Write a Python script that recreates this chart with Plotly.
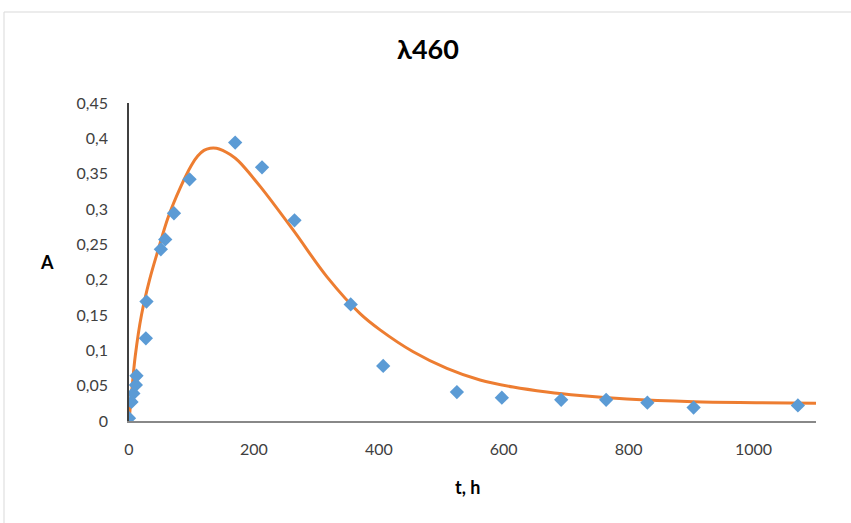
import plotly.graph_objects as go

# Measured points
t_obs = [0, 4, 7, 11, 12, 27, 28, 51, 58, 72, 97, 170, 213, 265, 355, 407, 525, 597, 692, 764, 830, 904, 1071]
a_obs = [0.004, 0.027, 0.039, 0.051, 0.064, 0.117, 0.169, 0.243, 0.257, 0.294, 0.342, 0.394, 0.359, 0.284,
         0.165, 0.078, 0.041, 0.033, 0.030, 0.030, 0.026, 0.019, 0.022]

# Trend curve
t_fit = [0, 5, 10, 20, 33, 47, 63, 82, 100, 110, 120, 130, 140, 150, 162, 175, 210, 263, 317, 370, 402, 455,
         509, 562, 615, 669, 722, 797, 904, 1010, 1100]
a_fit = [0.0, 0.048, 0.092, 0.150, 0.200, 0.243, 0.289, 0.330, 0.362, 0.375, 0.383, 0.386, 0.386, 0.383,
         0.377, 0.368, 0.332, 0.270, 0.204, 0.152, 0.129, 0.098, 0.0745, 0.058, 0.048, 0.041, 0.036, 0.031,
         0.0273, 0.026, 0.025]

x_ticks = [0, 200, 400, 600, 800, 1000]
x_tick_text = ["0", "200", "400", "600", "800", "1000"]
y_ticks = [0, 0.05, 0.1, 0.15, 0.2, 0.25, 0.3, 0.35, 0.4, 0.45]
y_tick_text = ["0", "0,05", "0,1", "0,15", "0,2", "0,25", "0,3", "0,35", "0,4", "0,45"]

FONT = "Lato"

fig = go.Figure()
fig.add_trace(go.Scatter(x=t_fit, y=a_fit, mode="lines",
                         line=dict(color="#ED7D31", width=3, shape="spline", smoothing=1.0),
                         hoverinfo="skip", showlegend=False))
fig.add_trace(go.Scatter(x=t_obs, y=a_obs, mode="markers",
                         marker=dict(symbol="diamond", size=11, color="#5B9BD5"), showlegend=False))

fig.update_layout(
    width=851, height=523,
    margin=dict(l=129, r=35, t=103, b=102),
    paper_bgcolor="white", plot_bgcolor="white",
    font=dict(family=FONT, size=16, color="#595959"),
    title=dict(text="<b>λ460</b>", x=428/851, xref="container", xanchor="center",
               y=1-50/523, yref="container", yanchor="middle",
               font=dict(family=FONT, size=27, color="#000000")),
    xaxis=dict(range=[0, 1100], tickvals=x_ticks, ticktext=x_tick_text, showgrid=False, zeroline=False,
               showline=True, linecolor="#888888", linewidth=2, ticks="", ticklabelstandoff=13,
               tickfont=dict(family=FONT, size=16, color="#404040")),
    yaxis=dict(range=[0, 0.45], tickvals=y_ticks, ticktext=y_tick_text, showgrid=False, zeroline=False,
               showline=True, linecolor="#404040", linewidth=1.5, ticks="", ticklabelstandoff=16,
               tickfont=dict(family=FONT, size=16, color="#404040")),
    shapes=[dict(type="rect", xref="paper", yref="paper",
                 x0=(4-129)/687, x1=(900-129)/687, y0=(421-600)/318, y1=(421-12)/318,
                 line=dict(color="#d9d9d9", width=1), fillcolor="rgba(0,0,0,0)", layer="below")],
    annotations=[
        dict(text="<b>A</b>", xref="paper", yref="paper", x=(47-129)/687, y=(421-262)/318,
             showarrow=False, xanchor="center", yanchor="middle",
             font=dict(family=FONT, size=18, color="#000000")),
        dict(text="<b>t, h</b>", xref="paper", yref="paper", x=(467-129)/687, y=(421-487)/318,
             showarrow=False, xanchor="center", yanchor="middle",
             font=dict(family=FONT, size=18, color="#000000")),
    ],
)

fig.write_html("out.html", config={"displayModeBar": False},
               post_script="document.body.style.margin='0';document.body.style.padding='0';")
